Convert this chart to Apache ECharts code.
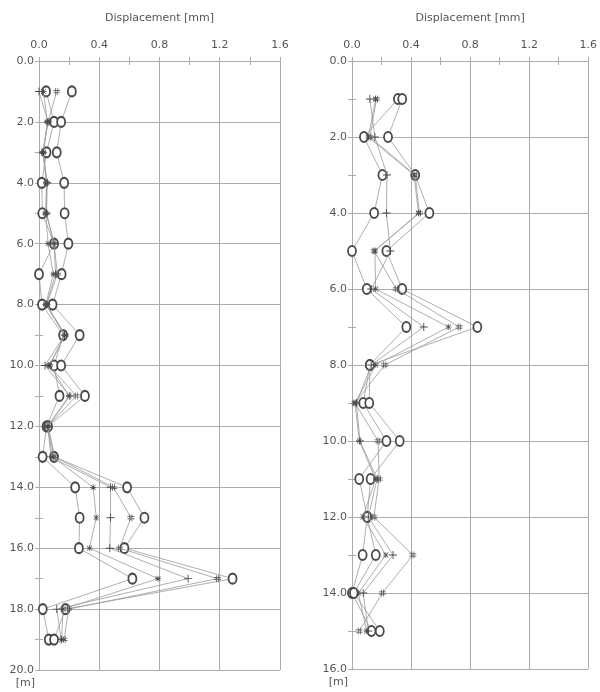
<!DOCTYPE html>
<html>
<head>
<meta charset="utf-8">
<script src="https://cdn.jsdelivr.net/npm/echarts@6/dist/echarts.min.js"></script>
<style>
html,body{margin:0;padding:0;background:#fff;}
#chart{width:600px;height:692px;}
</style>
</head>
<body>
<div id="chart"></div>
<script>
// ---- data ----
const xTicks = [0.0, 0.4, 0.8, 1.2, 1.6];
const leftDepths = [1,2,3,4,5,6,7,8,9,10,11,12,13,14,15,16,17,18,19];
const leftCircleA = [0.047,0.10,0.05,0.018,0.022,0.10,0.0,0.02,0.16,0.10,0.136,0.05,0.024,0.24,0.27,0.265,0.62,0.025,0.065];
const leftStar    = [0.03,0.055,0.03,0.05,0.045,0.06,0.095,0.045,0.17,0.07,0.20,0.055,0.09,0.36,0.38,0.335,0.79,0.16,0.15];
const leftPlus    = [0.0,0.06,0.025,0.055,0.05,0.10,0.11,0.05,0.17,0.04,0.205,0.06,0.078,0.475,0.475,0.47,0.99,0.118,0.147];
const leftHash    = [0.118,0.06,0.025,0.05,0.047,0.10,0.122,0.05,0.175,0.07,0.247,0.06,0.105,0.495,0.61,0.535,1.185,0.196,0.167];
const leftCircleB = [0.218,0.147,0.118,0.167,0.17,0.195,0.15,0.09,0.27,0.147,0.305,0.06,0.10,0.585,0.70,0.567,1.285,0.176,0.10];

const rightDepths = [1,2,3,4,5,6,7,8,9,10,11,12,13,14,15];
const rightCircleA = [0.311,0.081,0.206,0.15,0.0,0.10,0.368,0.121,0.076,0.233,0.049,0.103,0.072,0.0,0.132];
const rightStar    = [0.16,0.11,0.42,0.45,0.155,0.16,0.654,0.161,0.02,0.05,0.16,0.074,0.229,0.043,0.099];
const rightPlus    = [0.121,0.155,0.237,0.233,0.26,0.13,0.486,0.13,0.03,0.054,0.17,0.11,0.278,0.076,0.11];
const rightHash    = [0.166,0.121,0.428,0.457,0.15,0.30,0.726,0.222,0.02,0.177,0.184,0.148,0.412,0.206,0.049];
const rightCircleB = [0.34,0.244,0.428,0.524,0.233,0.34,0.849,0.121,0.117,0.323,0.126,0.103,0.161,0.013,0.188];

// ---- styling ----
const txt = '#555';
const gridCol = '#b3aaa2';
const lineCol = '#9a9a9a';
const markCol = '#4a4a4a';
const font = 'DejaVu Sans';

const SYM = {
  circle: {symbol: 'emptyCircle', size: [8, 10]},
  plus: {symbol: 'path://M4,0h1v9h-1z M0,4h9v1h-9z', size: 8},
  hash: {symbol: 'path://M3,0h1v10h-1z M6,0h1v10h-1z M0,3h10v1h-10z M0,6h10v1h-10z', size: 7},
  star: {symbol: 'path://M4,0h1v9h-1z M0,4h9v1h-9z M1.2,0.5l7.3,7.3l-0.7,0.7l-7.3,-7.3z M7.8,0.5l0.7,0.7l-7.3,7.3l-0.7,-0.7z', size: 6}
};

function mk(vals, depths, kind, xi, yi) {
  const s = SYM[kind];
  return {
    type: 'line',
    xAxisIndex: xi, yAxisIndex: yi,
    data: vals.map((v, i) => [v, depths[i]]),
    symbol: s.symbol, symbolSize: s.size, showAllSymbol: true,
    lineStyle: {color: lineCol, width: 0.8},
    itemStyle: {color: markCol, borderWidth: 0.9},
    z: kind === 'circle' ? 3 : 4,
    animation: false
  };
}

function xTop(gi) {
  return {
    type: 'value', gridIndex: gi, position: 'top',
    min: xTicks[0], max: xTicks[xTicks.length - 1], interval: 0.4,
    name: 'Displacement [mm]', nameLocation: 'middle', nameGap: 37,
    nameTextStyle: {color: txt, fontFamily: font, fontSize: 11},
    axisLine: {show: true, lineStyle: {color: gridCol, width: 1}},
    axisTick: {show: true, inside: true, length: 4, lineStyle: {color: gridCol}},
    minorTick: {show: true, splitNumber: 2, length: 4, lineStyle: {color: gridCol}},
    axisLabel: {color: txt, fontFamily: font, fontSize: 11, margin: 10, formatter: v => v.toFixed(1)},
    splitLine: {show: true, lineStyle: {color: gridCol, width: 1}}
  };
}
function xBottom(gi) {
  return {
    type: 'value', gridIndex: gi, position: 'bottom',
    min: 0, max: 1.6, interval: 0.4,
    axisLine: {show: true, lineStyle: {color: gridCol, width: 1}},
    axisTick: {show: true, inside: true, length: 4, lineStyle: {color: gridCol}},
    minorTick: {show: true, splitNumber: 2, length: 4, lineStyle: {color: gridCol}},
    axisLabel: {show: false}, splitLine: {show: false}
  };
}
function yLeft(gi, max) {
  return {
    type: 'value', gridIndex: gi, position: 'left', inverse: true,
    min: 0, max: max, interval: 2,
    name: '[m]', nameLocation: 'end', nameGap: 8,
    nameTextStyle: {color: txt, fontFamily: font, fontSize: 11, align: 'right', padding: [0, 4, 0, 0]},
    axisLine: {show: true, lineStyle: {color: gridCol, width: 1}},
    axisTick: {show: true, inside: true, length: 4, lineStyle: {color: gridCol}},
    minorTick: {show: true, splitNumber: 2, length: 4, lineStyle: {color: gridCol}},
    axisLabel: {color: txt, fontFamily: font, fontSize: 11, margin: 5, formatter: v => v.toFixed(1)},
    splitLine: {show: true, lineStyle: {color: gridCol, width: 1}}
  };
}
function yRight(gi, max) {
  return {
    type: 'value', gridIndex: gi, position: 'right', inverse: true,
    min: 0, max: max, interval: 2,
    axisLine: {show: true, lineStyle: {color: gridCol, width: 1}},
    axisTick: {show: true, inside: true, length: 4, lineStyle: {color: gridCol}},
    minorTick: {show: true, splitNumber: 2, length: 4, lineStyle: {color: gridCol}},
    axisLabel: {show: false}, splitLine: {show: false}
  };
}

const chart = echarts.init(document.getElementById('chart'), null, {renderer: 'canvas'});
chart.setOption({
  backgroundColor: '#fff',
  animation: false,
  grid: [
    {left: 39, top: 61, width: 241, height: 609},
    {left: 352, top: 61, width: 238, height: 608}
  ],
  xAxis: [xTop(0), xBottom(0), xTop(1), xBottom(1)],
  yAxis: [yLeft(0, 20), yRight(0, 20), yLeft(1, 16), yRight(1, 16)],
  series: [
    mk(leftCircleA, leftDepths, 'circle', 0, 0),
    mk(leftStar, leftDepths, 'star', 0, 0),
    mk(leftPlus, leftDepths, 'plus', 0, 0),
    mk(leftHash, leftDepths, 'hash', 0, 0),
    mk(leftCircleB, leftDepths, 'circle', 0, 0),
    mk(rightCircleA, rightDepths, 'circle', 2, 2),
    mk(rightStar, rightDepths, 'star', 2, 2),
    mk(rightPlus, rightDepths, 'plus', 2, 2),
    mk(rightHash, rightDepths, 'hash', 2, 2),
    mk(rightCircleB, rightDepths, 'circle', 2, 2)
  ]
});
</script>
</body>
</html>
